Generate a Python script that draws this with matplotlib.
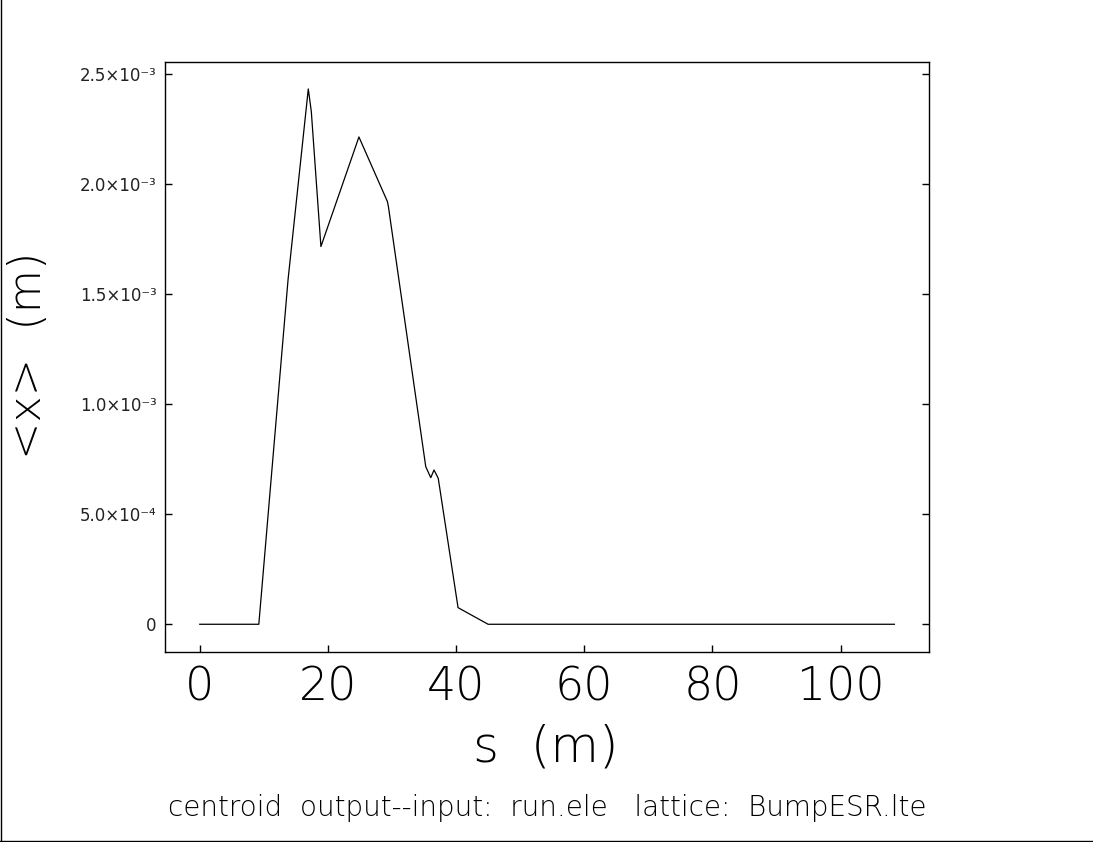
import matplotlib
matplotlib.use("Agg")
import matplotlib.pyplot as plt
from matplotlib.lines import Line2D

# Data (s in m, <x> in m)
s_vals = [0.0, 9.22, 13.78, 16.94, 17.41, 18.91, 24.06, 24.84, 29.28, 29.44,
          35.27, 36.05, 36.56, 37.22, 40.31, 45.0, 60.0, 80.0, 100.0, 108.4]
x_vals = [0.0, 0.0, 1.565e-3, 2.432e-3, 2.330e-3, 1.716e-3, 2.148e-3, 2.214e-3,
          1.921e-3, 1.898e-3, 0.716e-3, 0.666e-3, 0.701e-3, 0.663e-3,
          0.0755e-3, 0.0, 0.0, 0.0, 0.0, 0.0]

xticks = [0, 20, 40, 60, 80, 100]
yticks = [0.0, 5.0e-4, 1.0e-3, 1.5e-3, 2.0e-3, 2.5e-3]
ytick_labels = ["0", "5.0×10⁻⁴", "1.0×10⁻³", "1.5×10⁻³", "2.0×10⁻³", "2.5×10⁻³"]

xlabel = "s  (m)"
ylabel = "<x>  (m)"
title = "centroid  output--input:  run.ele   lattice:  BumpESR.lte"

plt.rcParams['font.family'] = ['DejaVu Sans']
W, H = 1093, 842
fig = plt.figure(figsize=(W / 100, H / 100), dpi=100)
ax = fig.add_axes([165 / W, 1 - 652 / H, (929 - 165) / W, (652 - 62) / H])

ax.plot(s_vals, x_vals, color="black", linewidth=0.9)

ax.set_xlim(-5.42, 113.8)
ax.set_ylim(-0.126e-3, 2.5545e-3)

ax.set_xticks(xticks)
ax.set_xticklabels([str(t) for t in xticks], fontsize=33, fontweight=200)
ax.set_yticks(yticks)
ax.set_yticklabels(ytick_labels, fontsize=12, fontweight="normal", color="#222222")

ax.tick_params(axis="x", direction="in", length=5, width=1, pad=10, top=False)
ax.tick_params(axis="y", direction="in", length=5, width=1, pad=6, right=True)

for sp in ax.spines.values():
    sp.set_linewidth(1.0)

fig.text(546 / W, 1 - 748 / H, xlabel, fontsize=36, fontweight=200,
         ha="center", va="center")
fig.text(29 / W, 1 - 355 / H, ylabel, fontsize=32, fontweight=200,
         ha="center", va="center", rotation=90)
fig.text(547 / W, 1 - 808 / H, title, fontsize=20, fontweight=200,
         ha="center", va="center")

# figure border (left and bottom)
fig.add_artist(Line2D([0.5 / W, 0.5 / W], [0, 1], color="black", linewidth=1,
                      transform=fig.transFigure))
fig.add_artist(Line2D([0, 1], [1 - 840.5 / H, 1 - 840.5 / H], color="black",
                      linewidth=1, transform=fig.transFigure))

fig.savefig("out.png", dpi=100, facecolor="white")
